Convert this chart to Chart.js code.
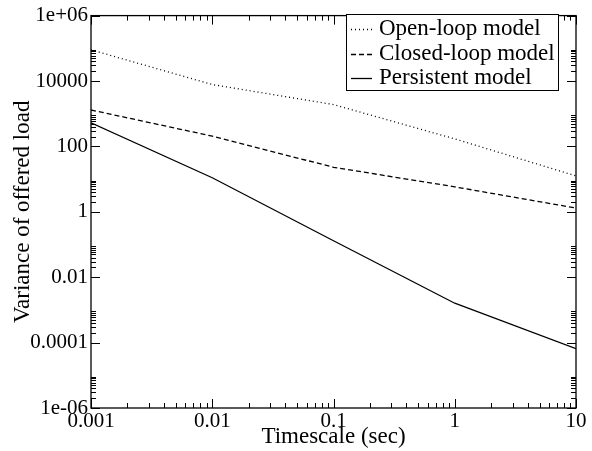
<!DOCTYPE html>
<html>
<head>
<meta charset="utf-8">
<style>
html,body{margin:0;padding:0;background:#fff;}
#wrap{width:592px;height:451px;position:relative;}
</style>
<script src="https://cdn.jsdelivr.net/npm/chart.js@4.4.1/dist/chart.umd.min.js"></script>
</head>
<body>
<div id="wrap"><canvas id="c" width="592" height="451"></canvas></div>
<script>
// ---- data ----
const timescales = [0.001, 0.01, 0.1, 1, 10];
const openLoop = [90000, 7800, 1900, 170, 12.5];
const closedLoop = [1300, 206, 23, 5.8, 1.3];
const persistent = [525, 11, 0.13, 0.0016, 6.5e-5];
const seriesLabels = ['Open-loop model', 'Closed-loop model', 'Persistent model'];
const xTickValues = [0.001, 0.01, 0.1, 1, 10];
const xTickLabels = ['0.001', '0.01', '0.1', '1', '10'];
const yTickValues = [1e-6, 1e-4, 1e-2, 1, 1e2, 1e4, 1e6];
const yTickLabels = ['1e-06', '0.0001', '0.01', '1', '100', '10000', '1e+06'];

const SERIF = "'Liberation Serif', 'Times New Roman', serif";

function pts(ys) { return timescales.map((x, i) => ({x: x, y: ys[i]})); }

const frameTicks = {
  id: 'frameTicks',
  afterDatasetsDraw(chart) {
    const ctx = chart.ctx;
    const a = chart.chartArea;
    const xs = chart.scales.x, ys = chart.scales.y;
    ctx.save();
    ctx.strokeStyle = '#000';
    ctx.lineWidth = 1.3;
    ctx.strokeRect(a.left, a.top, a.right - a.left, a.bottom - a.top);
    ctx.lineWidth = 1;
    ctx.beginPath();
    for (let e = -3; e <= 1; e++) {
      for (let m = 1; m <= 9; m++) {
        const v = m * Math.pow(10, e);
        if (v > 10.0001) continue;
        const px = Math.round(xs.getPixelForValue(v)) + 0.5;
        const len = m === 1 ? 9 : 5;
        ctx.moveTo(px, a.bottom); ctx.lineTo(px, a.bottom - len);
        ctx.moveTo(px, a.top); ctx.lineTo(px, a.top + len);
      }
    }
    for (let e = -6; e <= 6; e += 2) {
      for (let m = 1; m <= 9; m++) {
        const v = m * Math.pow(10, e);
        if (v > 1.0001e6) continue;
        const py = Math.round(ys.getPixelForValue(v)) + 0.5;
        const len = m === 1 ? 9 : 5;
        ctx.moveTo(a.left, py); ctx.lineTo(a.left + len, py);
        ctx.moveTo(a.right, py); ctx.lineTo(a.right - len, py);
      }
    }
    ctx.stroke();
    ctx.restore();
  },
  afterDraw(chart) {
    const ctx = chart.ctx;
    const bx = 346, by = 14, bw = 212, bh = 76;
    ctx.save();
    ctx.fillStyle = '#fff';
    ctx.fillRect(bx, by, bw, bh);
    ctx.strokeStyle = '#000';
    ctx.lineWidth = 1;
    ctx.strokeRect(bx + 0.5, by + 0.5, bw, bh);
    ctx.font = '23px ' + SERIF;
    ctx.fillStyle = '#000';
    ctx.textBaseline = 'alphabetic';
    chart.data.datasets.forEach((ds, i) => {
      const base = by + 21 + i * 24.5;
      const ly = Math.round(base - 6) + 0.5;
      ctx.beginPath();
      ctx.setLineDash(ds.borderDash || []);
      ctx.lineWidth = ds.borderWidth;
      ctx.moveTo(351, ly); ctx.lineTo(372, ly);
      ctx.stroke();
      ctx.setLineDash([]);
      ctx.fillText(ds.label, 379, base);
    });
    ctx.restore();
  }
};

new Chart(document.getElementById('c'), {
  type: 'line',
  data: {
    datasets: [
      {label: seriesLabels[0], data: pts(openLoop), borderColor: '#000', borderWidth: 1.3, borderDash: [1, 3], pointRadius: 0, fill: false, tension: 0},
      {label: seriesLabels[1], data: pts(closedLoop), borderColor: '#000', borderWidth: 1.3, borderDash: [5, 3], pointRadius: 0, fill: false, tension: 0},
      {label: seriesLabels[2], data: pts(persistent), borderColor: '#000', borderWidth: 1.3, pointRadius: 0, fill: false, tension: 0}
    ]
  },
  options: {
    responsive: false,
    animation: false,
    devicePixelRatio: 1,
    layout: {padding: {left: 0, right: 16, top: 14, bottom: 0}},
    plugins: {legend: {display: false}, tooltip: {enabled: false}},
    scales: {
      x: {
        type: 'logarithmic', min: 0.001, max: 10,
        afterBuildTicks: s => { s.ticks = xTickValues.map(v => ({value: v})); },
        afterFit: s => { s.height = 43; },
        ticks: {
          callback: (v) => { const i = xTickValues.findIndex(t => Math.abs(t - v) / t < 1e-6); return i >= 0 ? xTickLabels[i] : ''; },
          font: {family: SERIF, size: 21}, color: '#000', padding: 1, maxRotation: 0, autoSkip: false
        },
        grid: {display: false, drawTicks: false},
        border: {display: false},
        title: {display: true, text: 'Timescale (sec)', font: {family: SERIF, size: 23}, color: '#000', padding: {top: 0, bottom: 0}}
      },
      y: {
        type: 'logarithmic', min: 1e-6, max: 1e6,
        afterBuildTicks: s => { s.ticks = yTickValues.map(v => ({value: v})); },
        afterFit: s => { s.width = 91; },
        ticks: {
          callback: (v) => { const i = yTickValues.findIndex(t => Math.abs(t - v) / t < 1e-6); return i >= 0 ? yTickLabels[i] : ''; },
          font: {family: SERIF, size: 21}, color: '#000', padding: 3, autoSkip: false
        },
        grid: {display: false, drawTicks: false},
        border: {display: false},
        title: {display: true, text: 'Variance of offered load', font: {family: SERIF, size: 23}, color: '#000', padding: {top: 9, bottom: 0}}
      }
    }
  },
  plugins: [frameTicks]
});
</script>
</body>
</html>
